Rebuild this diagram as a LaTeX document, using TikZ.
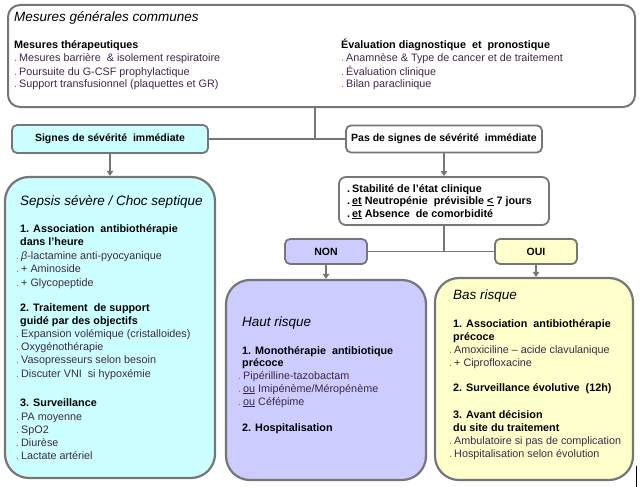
\documentclass[tikz,border=0pt]{standalone}
\usepackage{fontspec}
\setmainfont{Liberation Sans}
\usetikzlibrary{arrows.meta}
\definecolor{bord}{RGB}{118,118,118}
\definecolor{cyanf}{RGB}{204,255,255}
\definecolor{lavf}{RGB}{204,204,255}
\definecolor{yelf}{RGB}{255,255,204}
\definecolor{itemc}{RGB}{62,40,72}
\definecolor{dotc}{RGB}{200,100,40}
\newcommand\itm[1]{{\color{dotc}.}\hspace{2pt}{\color{itemc}#1}}
\newcommand\bitm[1]{.\hspace{2pt}#1}
\newcommand\TL[3]{\node[txt] (#1) at (#2) {#3};}
\newcommand\TT[3]{\node[tit] (#1) at (#2) {#3};}
\newcommand\TB[3]{\node[txt,font=\bfseries\fontsize{10.8}{13}\selectfont] (#1) at (#2) {#3};}
\begin{document}
\begin{tikzpicture}[x=1pt,y=-1pt,
  txt/.style={anchor=base west, inner sep=0pt, font=\fontsize{10.8}{13}\selectfont},
  tit/.style={anchor=base west, inner sep=0pt, font=\itshape\fontsize{13.5}{16}\selectfont},
  bigbox/.style={draw=bord, line width=2.2pt, rounded corners=24pt},
  smallbox/.style={draw=bord, line width=1.8pt, rounded corners=5pt, inner sep=0pt,
    font=\bfseries\fontsize{10.5}{12}\selectfont},
  conn/.style={draw=bord, line width=1.8pt},
  arr/.style={conn, -{Triangle[width=6.5pt,length=5pt]}}]
\useasboundingbox[fill=white] (0,0) rectangle (640,487);

% boxes
\node[draw=bord, line width=2pt, rounded corners=12pt, minimum width=627pt, minimum height=102pt, fill=white] (top) at (321.5,56) {};
\node[smallbox, fill=cyanf, minimum width=196pt, minimum height=28pt] (sig) at (110,139) {Signes de sévérité\ \ immédiate};
\node[smallbox, fill=white, minimum width=196pt, minimum height=27pt] (pas) at (444,139) {Pas de signes de sévérité\ \ immédiate};
\node[smallbox, fill=white, rounded corners=7pt, minimum width=210pt, minimum height=48pt] (stab) at (444,201) {};
\node[smallbox, fill=lavf, minimum width=82pt, minimum height=25pt] (non) at (326,251.5) {NON};
\node[smallbox, fill=yelf, minimum width=82pt, minimum height=25pt] (oui) at (536,251.5) {OUI};
\node[bigbox, fill=cyanf, minimum width=210pt, minimum height=301pt] (sep) at (110,327.5) {};
\node[bigbox, fill=lavf, minimum width=200pt, minimum height=200pt] (haut) at (326,380) {};
\node[bigbox, fill=yelf, minimum width=198pt, minimum height=202pt] (bas) at (534,379) {};

% connectors
\coordinate (j1) at (315,139);
\draw[conn] (top.south -| j1) -- (j1);
\draw[conn] (sig.east) -- (pas.west);
\draw[arr] (sig.south) -- (sep.north);
\draw[arr] (pas.south) -- (stab.north);
\draw[conn] (stab.south) -- (stab.south |- non.east);
\draw[conn] (non.east) -- (oui.west);
\draw[arr] (non.south) -- (haut.north);
\draw[arr] (oui.south) -- (oui.south |- bas.north);
\coordinate (k1) at (636,466);
\coordinate (k2) at (636,487);
\draw[black, line width=1pt] (k1) -- (k2);

% top box text
\TT{t0}{14,22}{Mesures générales communes}
\TB{t1}{14,49}{Mesures thérapeutiques}
\TL{t2}{14,62}{\itm{Mesures barrière\ \ \& isolement respiratoire}}
\TL{t3}{14,75}{\itm{Poursuite du G-CSF prophylactique}}
\TL{t4}{14,88}{\itm{Support transfusionnel (plaquettes et GR)}}
\TB{t5}{341,49}{Évaluation diagnostique\ \ et\ \ pronostique}
\TL{t6}{341,62}{\itm{Anamnèse \& Type de cancer et de traitement}}
\TL{t7}{341,75}{\itm{Évaluation clinique}}
\TL{t8}{341,88}{\itm{Bilan paraclinique}}

% stabilite
\TB{s1}{347,192}{\bitm{Stabilité de l’état clinique}}
\TB{s2}{347,204}{\bitm{\underline{et} Neutropénie\ \ prévisible \underline{<} 7 jours}}
\TB{s3}{347,217}{\bitm{\underline{et} Absence\ \ de comorbidité}}

% sepsis
\TT{p0}{20,205}{Sepsis sévère / Choc septique}
\TB{p1}{20,232}{1. Association\ \ antibiothérapie}
\TB{p2}{20,245}{dans l'heure}
\TL{p3}{16,259}{\itm{{\itshape β}-lactamine anti-pyocyanique}}
\TL{p4}{16,272}{\itm{+ Aminoside}}
\TL{p5}{16,286}{\itm{+ Glycopeptide}}
\TB{p6}{20,311}{2. Traitement\ \ de support}
\TB{p7}{20,324}{guidé par des objectifs}
\TL{p8}{16,337}{\itm{Expansion volémique (cristalloides)}}
\TL{p9}{16,350}{\itm{Oxygénothérapie}}
\TL{p10}{16,363}{\itm{Vasopresseurs selon besoin}}
\TL{p11}{16,377}{\itm{Discuter VNI\ \ si hypoxémie}}
\TB{p12}{20,406}{3. Surveillance}
\TL{p13}{16,420}{\itm{PA moyenne}}
\TL{p14}{16,433}{\itm{SpO2}}
\TL{p15}{16,446}{\itm{Diurèse}}
\TL{p16}{16,459}{\itm{Lactate artériel}}

% haut risque
\TT{h0}{242,326}{Haut risque}
\TB{h1}{242,354}{1. Monothérapie\ \ antibiotique}
\TB{h2}{242,366}{précoce}
\TL{h3}{238,379}{\itm{Pipérilline-tazobactam}}
\TL{h4}{238,392}{\itm{\underline{ou} Imipénème/Méropénème}}
\TL{h5}{238,405}{\itm{\underline{ou} Céfépime}}
\TB{h6}{242,431}{2. Hospitalisation}

% bas risque
\TT{b0}{453,299}{Bas risque}
\TB{b1}{453,327}{1. Association\ \ antibiothérapie}
\TB{b2}{453,340}{précoce}
\TL{b3}{449,353}{\itm{Amoxiciline -- acide clavulanique}}
\TL{b4}{449,366}{\itm{+ Ciprofloxacine}}
\TB{b5}{453,391}{2. Surveillance évolutive\ \ (12h)}
\TB{b6}{453,418}{3. Avant décision}
\TB{b7}{453,431}{du site du traitement}
\TL{b8}{449,444}{\itm{Ambulatoire si pas de complication}}
\TL{b9}{449,457}{\itm{Hospitalisation selon évolution}}
\end{tikzpicture}
\end{document}
